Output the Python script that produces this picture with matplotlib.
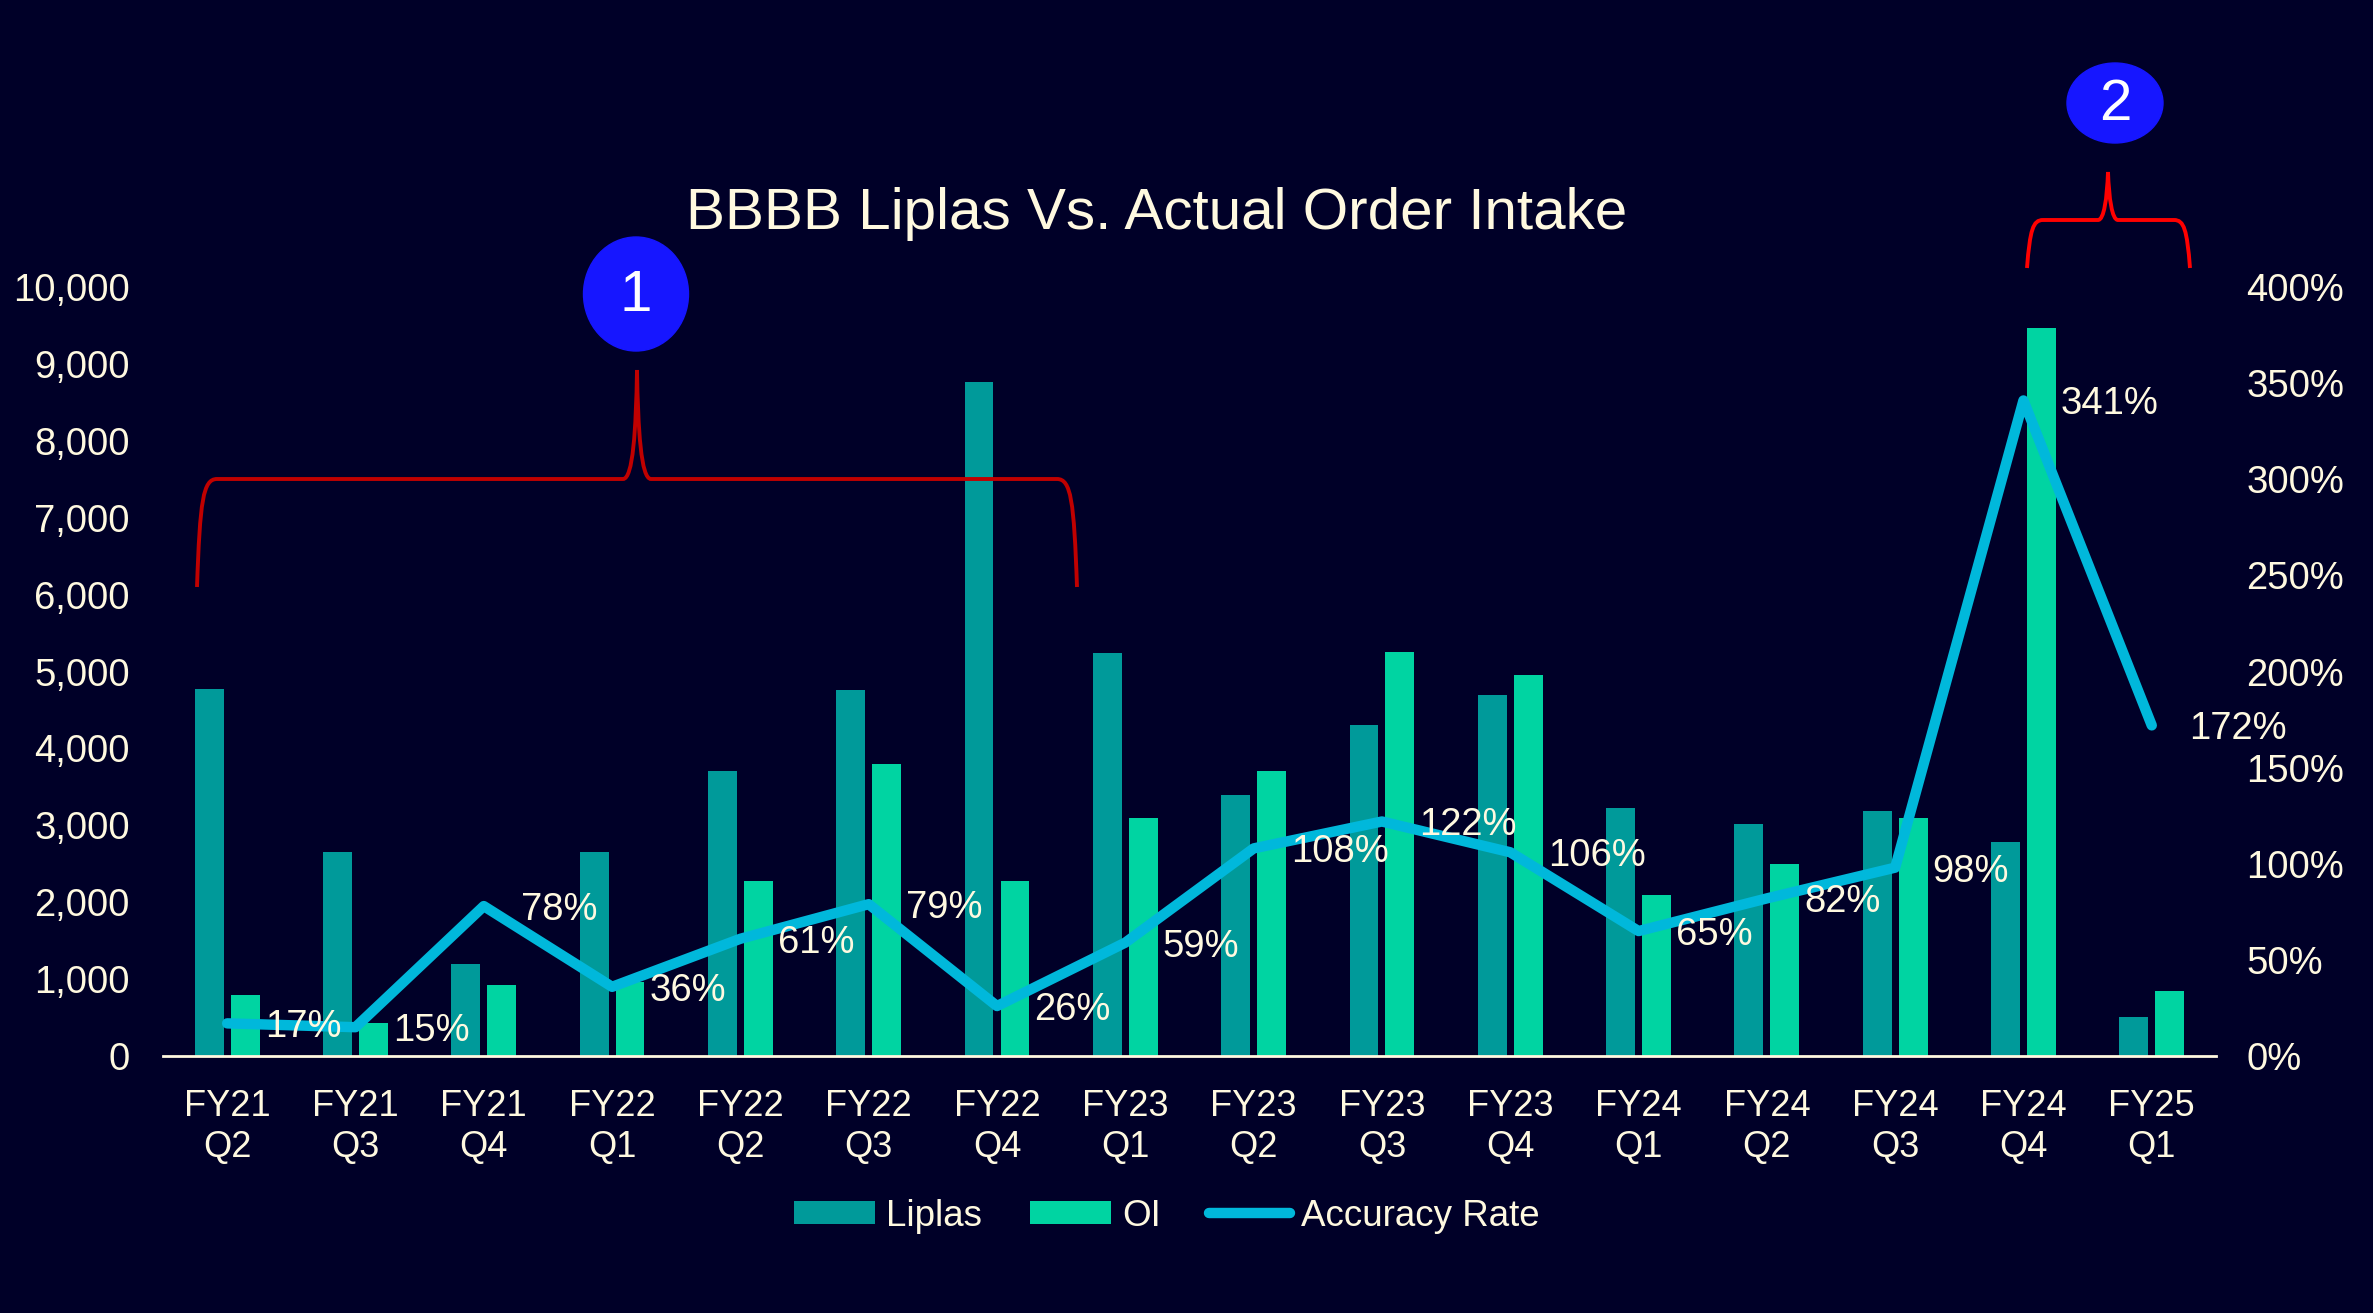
"""
BBBB Liplas vs. actual order intake: grouped bars plus accuracy-rate line
on a secondary percent axis, with the two highlighted callouts.
"""

import matplotlib.pyplot as plt
from matplotlib.patches import Ellipse, PathPatch
from matplotlib.path import Path
from matplotlib.ticker import FuncFormatter, MultipleLocator
import numpy as np


# ── Data ───────────────────────────────────────────────────────────────────

quarters = ['FY21\nQ2', 'FY21\nQ3', 'FY21\nQ4', 'FY22\nQ1', 'FY22\nQ2',
            'FY22\nQ3', 'FY22\nQ4', 'FY23\nQ1', 'FY23\nQ2', 'FY23\nQ3',
            'FY23\nQ4', 'FY24\nQ1', 'FY24\nQ2', 'FY24\nQ3', 'FY24\nQ4',
            'FY25\nQ1']
liplas = [4770, 2650, 1200, 2650, 3710, 4760, 8770, 5240,
          3390, 4310, 4690, 3230, 3020, 3180, 2780, 510]
order_intake = [790, 430, 920, 960, 2270, 3800, 2270, 3100,
                3710, 5250, 4960, 2100, 2500, 3100, 9470, 840]
accuracy = [17, 15, 78, 36, 61, 79, 26, 59,
            108, 122, 106, 65, 82, 98, 341, 172]

# ── Style ──────────────────────────────────────────────────────────────────

BG        = '#000028'
TXT       = '#FFF9E0'
C_LIPLAS  = '#009A9A'
C_OI      = '#00D4A2'
C_ACC     = '#00B8DB'
FONT      = 'Liberation Sans'
W, H      = 2373, 1313

plt.rcParams['font.family'] = [FONT, 'DejaVu Sans']

fig = plt.figure(figsize=(W / 100, H / 100), dpi=100, facecolor=BG)
ax = fig.add_axes([0.0687, 0.1957, 0.8651, 0.5857])
ax.set_facecolor(BG)

x = np.arange(len(quarters))
bw = 0.225
b1 = ax.bar(x - 0.14, liplas, bw, color=C_LIPLAS, label='Liplas')
b2 = ax.bar(x + 0.14, order_intake, bw, color=C_OI, label='OI')

ax.set_xlim(-0.5, len(quarters) - 0.5)
ax.set_ylim(0, 10000)
ax.yaxis.set_major_locator(MultipleLocator(1000))
ax.yaxis.set_major_formatter(FuncFormatter(lambda v, _: f'{v:,.0f}'))
ax.set_xticks(x)
ax.set_xticklabels(quarters, linespacing=1.2)
ax.tick_params(axis='both', length=0, colors=TXT)
ax.tick_params(axis='x', pad=24, labelsize=26)
ax.tick_params(axis='y', pad=24, labelsize=27.5)
for side in ['top', 'left', 'right']:
    ax.spines[side].set_visible(False)
ax.spines['bottom'].set_color(TXT)
ax.spines['bottom'].set_linewidth(2)

# Accuracy rate on the secondary axis
ax2 = ax.twinx()
ln, = ax2.plot(x, accuracy, color=C_ACC, lw=7.5, label='Accuracy Rate',
               solid_capstyle='round')
ax2.set_ylim(0, 400)
ax2.yaxis.set_major_locator(MultipleLocator(50))
ax2.yaxis.set_major_formatter(FuncFormatter(lambda v, _: f'{v:.0f}%'))
ax2.tick_params(axis='y', length=0, colors=TXT, labelsize=27.5, pad=22)
for side in ['top', 'left', 'right', 'bottom']:
    ax2.spines[side].set_visible(False)

for xi, v in zip(x, accuracy):
    ax2.annotate(f'{v}%', (xi, v), xytext=(27, 0), textcoords='offset points',
                 ha='left', va='center_baseline', color=TXT, fontsize=27.5)

# Title and legend
fig.text(1157 / W, 1 - 229 / H, 'BBBB Liplas Vs. Actual Order Intake',
         ha='center', va='baseline', color=TXT, fontsize=42)

leg = fig.legend([b1, b2, ln], ['Liplas', 'OI', 'Accuracy Rate'],
                 loc='center', bbox_to_anchor=(1167 / W, 1 - 1216 / H),
                 ncol=3, frameon=False, fontsize=26.5, handlelength=2.2,
                 handleheight=0.55, handletextpad=0.3, columnspacing=1.3)
for t in leg.get_texts():
    t.set_color(TXT)

# ── Callouts (pixel overlay) ───────────────────────────────────────────────

ov = fig.add_axes([0, 0, 1, 1], zorder=10)
ov.set_xlim(0, W)
ov.set_ylim(H, 0)
ov.axis('off')
ov.patch.set_alpha(0)


def brace(x0, x1, xm, yb, yh, yp, r=14):
    """Curly brace opening downwards, tip pointing up at (xm, yp)."""
    verts = [(x0, yb),
             (x0 + 3, yb - (yb - yh) * 0.8), (x0 + 6, yh), (x0 + r + 6, yh),
             (xm - r, yh),
             (xm - 4, yh), (xm - 1, yh - (yh - yp) * 0.45), (xm, yp),
             (xm + 1, yh - (yh - yp) * 0.45), (xm + 4, yh), (xm + r, yh),
             (x1 - r - 6, yh),
             (x1 - 6, yh), (x1 - 3, yb - (yb - yh) * 0.8), (x1, yb)]
    codes = [Path.MOVETO,
             Path.CURVE4, Path.CURVE4, Path.CURVE4,
             Path.LINETO,
             Path.CURVE4, Path.CURVE4, Path.CURVE4,
             Path.CURVE4, Path.CURVE4, Path.CURVE4,
             Path.LINETO,
             Path.CURVE4, Path.CURVE4, Path.CURVE4]
    return Path(verts, codes)


ov.add_patch(PathPatch(brace(197, 1077, 637, 587, 479, 370),
                       fill=False, ec='#C00000', lw=2.8))
ov.add_patch(PathPatch(brace(2027, 2190, 2108, 268, 220, 172, r=10),
                       fill=False, ec='#FF0000', lw=2.8))

for (cx, cy, ew, eh, num) in [(636, 294, 105, 114, '1'),
                              (2115, 103, 96, 80, '2')]:
    ov.add_patch(Ellipse((cx, cy), ew, eh, color='#1616FF'))
    ov.text(cx, cy + 2, num, ha='center', va='center', color='white',
            fontsize=42)

fig.savefig('out.png', dpi=100, facecolor=BG)
plt.close(fig)
